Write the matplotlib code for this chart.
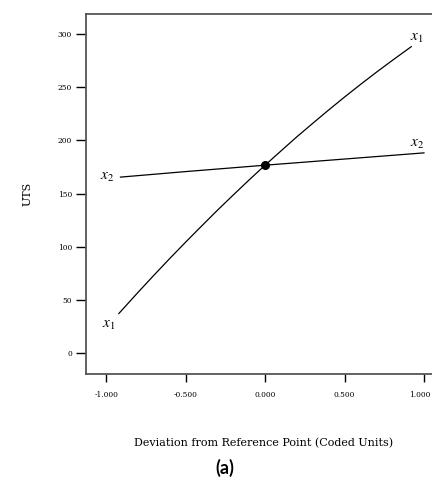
import matplotlib
matplotlib.use("Agg")
import matplotlib.pyplot as plt
import matplotlib.transforms as mtransforms

# Data
x1_x = [-0.92, -0.8, -0.7, -0.6, -0.5, -0.4, -0.3, -0.2, -0.1, 0.0,
        0.1, 0.2, 0.3, 0.4, 0.5, 0.6, 0.7, 0.8, 0.92]
x1_y = [37.2, 57.0, 73.1, 88.9, 104.3, 119.4, 134.3, 148.7, 162.9, 176.7,
        190.1, 203.4, 216.1, 228.6, 240.8, 252.6, 264.1, 275.2, 288.2]
x2_x = [-0.91, -0.5, 0.0, 0.5, 1.0]
x2_y = [165.5, 170.7, 176.7, 182.5, 188.3]
ref_point = (0.0, 176.7)
xticks = [-1.0, -0.5, 0.0, 0.5, 1.0]
xticklabels = ["-1.000", "-0.500", "0.000", "0.500", "1.000"]
yticks = [0, 50, 100, 150, 200, 250, 300]

plt.rcParams['font.family'] = ['DejaVu Serif']
plt.rcParams['mathtext.fontset'] = 'stix'

fig = plt.figure(figsize=(4.32, 4.83), dpi=100)
ax = fig.add_axes([0.199, 0.2257, 0.81, 0.745])

ax.plot(x1_x, x1_y, color='black', lw=0.9)
ax.plot(x2_x, x2_y, color='black', lw=0.9)
ax.plot([ref_point[0]], [ref_point[1]], 'o', color='black', ms=5.5)

ax.text(-0.987, 26, r"$x_\mathit{1}$", fontsize=11, ha='center', va='center')
ax.text(0.955, 296, r"$x_\mathit{1}$", fontsize=11, ha='center', va='center')
ax.text(-0.994, 165.5, r"$x_2$", fontsize=11, ha='center', va='center')
ax.text(0.956, 197, r"$x_2$", fontsize=11, ha='center', va='center')

ax.set_xlim(-1.127, 1.075)
ax.set_ylim(-19.7, 318.8)
ax.set_xticks(xticks)
ax.set_xticklabels(xticklabels)
ax.set_yticks(yticks)
ax.tick_params(axis='x', direction='out', length=6, width=1.0, labelsize=5.4, pad=6)
ax.tick_params(axis='y', direction='out', length=7, width=1.0, labelsize=5.4, pad=3)

# nudge the last x tick label so it stays inside the figure
last = ax.get_xticklabels()[-1]
last.set_transform(last.get_transform() +
                   mtransforms.ScaledTranslation(-4/100, 0, fig.dpi_scale_trans))

for s in ['top', 'left', 'bottom', 'right']:
    ax.spines[s].set_color('#555555')
    ax.spines[s].set_linewidth(1.3)

ax.set_ylabel("UTS", fontsize=8)
ax.yaxis.set_label_coords(-0.153, 0.5)
fig.text(0.609, 1 - 443/483, "Deviation from Reference Point (Coded Units)",
         fontsize=8, ha='center', va='center')
fig.text(225/432, 1 - 468/483, "(a)", fontsize=13, fontweight='bold',
         family=['Lato', 'DejaVu Sans'], ha='center', va='center')

fig.savefig("out.png", dpi=100)
